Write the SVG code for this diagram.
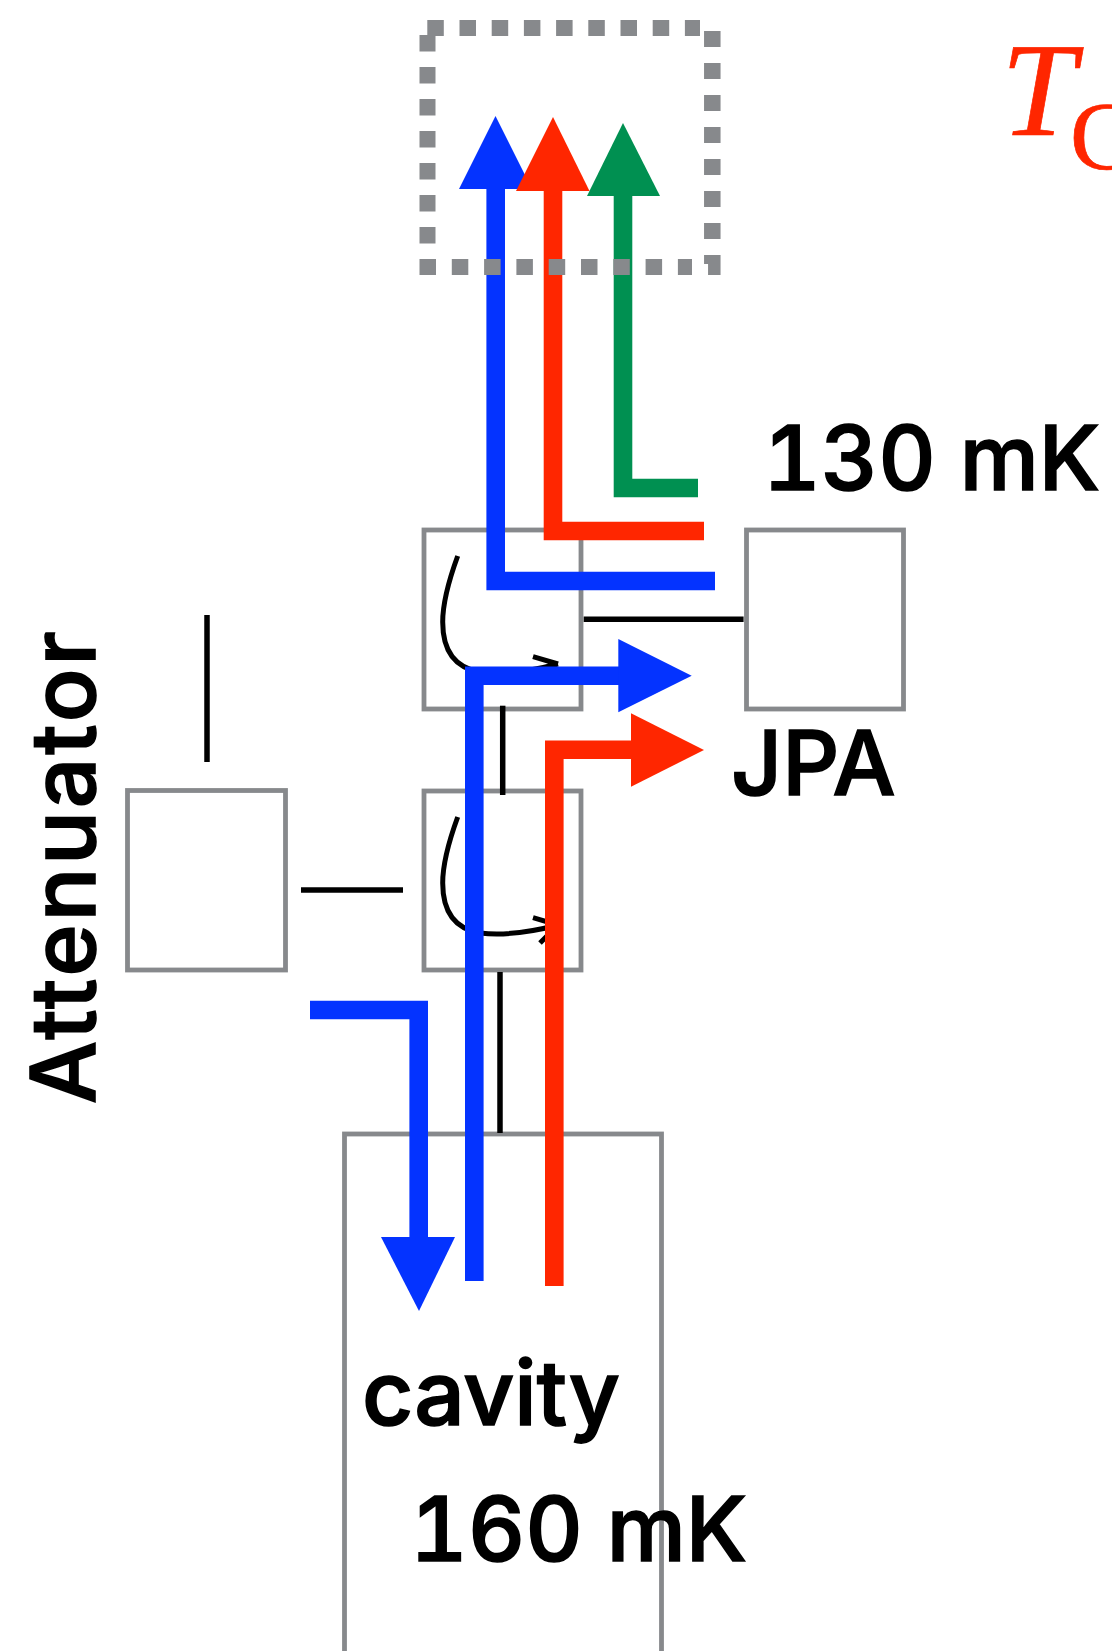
<svg xmlns="http://www.w3.org/2000/svg" width="1112" height="1651" viewBox="0 0 1112 1651">
<style>
.box{fill:none;stroke:#87898c;stroke-width:4.8}
.wire{fill:none;stroke:#000;stroke-width:5.5}
.thin{fill:none;stroke:#000;stroke-width:5}
.blue{fill:none;stroke:#0433ff;stroke-width:18.6}
.red{fill:none;stroke:#ff2600;stroke-width:18.6}
.green{fill:none;stroke:#009051;stroke-width:18.6}
.dot{fill:none;stroke:#87898c}
.lbl{font-family:Inter,"Liberation Sans",Arial,sans-serif;font-size:89px;font-weight:500;fill:#000;stroke:#000;stroke-width:1.6}
.num{font-variant-numeric:tabular-nums}
.tc{font-family:"Liberation Serif","Times New Roman",serif;fill:#ff2600;stroke:#ff2600;stroke-width:.7}
</style>
<rect width="1112" height="1651" fill="#fff"/>
<g id="circulator-top"><rect class="box" x="424" y="530" width="157" height="179"/>
<g id="circulator-top-symbol"><path class="thin" d="M457.7 556C446 588 442.7 608 442.7 622C442.7 652 456 668 480 672C505 675 535 670 558 664M533 656.7L558 664"/></g></g>
<g id="circulator-bottom"><rect class="box" x="424" y="791" width="157" height="179"/>
<g id="circulator-bottom-symbol"><path class="thin" d="M457.7 817C446 849 442.7 869 442.7 883C442.7 913 456 929 480 933C505 936 535 931 558 925M533 917.7L558 925L540 943"/></g></g>
<g id="attenuator"><rect class="box" x="127.5" y="790.5" width="158" height="179.5"/>
<text class="lbl" transform="translate(95 1104) rotate(-90)" textLength="473" lengthAdjust="spacing">Attenuator</text></g>
<g id="jpa"><rect class="box" x="746.5" y="530" width="157" height="179"/>
<text class="lbl" x="731" y="795">JPA</text></g>
<g id="cavity"><rect class="box" x="344.5" y="1134" width="317" height="540"/>
<text class="lbl" x="362" y="1425" textLength="258" lengthAdjust="spacing">cavity</text>
<text class="lbl num" x="410" y="1561" textLength="337" lengthAdjust="spacing">160 mK</text></g>
<g id="temp-130"><text class="lbl num" x="763" y="490" textLength="337" lengthAdjust="spacing">130 mK</text></g>
<g id="tc-label"><text class="tc" font-size="134" font-style="italic" x="1001" y="135">T</text><text class="tc" font-size="97" x="1070" y="169">C</text></g>
<g id="connectors">
<path class="wire" d="M583.7 619.3H743.6"/>
<path class="wire" d="M502.7 705.7V795"/>
<path class="wire" d="M500 972V1133"/>
<path class="wire" d="M301 890H403"/>
<path class="wire" d="M207 615V762"/>
<path class="blue" d="M715 581H495.7V180"/><polygon fill="#0433ff" points="495.5,116 532,189 459,189"/>
<path class="green" d="M698 488H623V190"/><polygon fill="#009051" points="623,123 660,196 587,196"/>
<path class="red" d="M704 531H553V185"/><polygon fill="#ff2600" points="553,117 589.5,191 516,191"/>
<path class="blue" d="M474.3 1281V675.7H625"/><polygon fill="#0433ff" points="691.7,675.7 618.3,712.3 618.3,639"/>
<path class="red" d="M554.3 1286V749.7H640"/><polygon fill="#ff2600" points="704,750 631,786.7 631,713.3"/>
<path class="blue" d="M310 1010H418.7V1245"/><polygon fill="#0433ff" points="419,1311 381,1237 455,1237"/>
</g>
<g id="dotted-box">
<path class="dot" stroke-width="16" stroke-dasharray="16.5 15.7" d="M427.3 28H700"/>
<path class="dot" stroke-width="16" stroke-dasharray="16.5 15.5" d="M427.5 35V244"/>
<path class="dot" stroke-width="16.5" stroke-dasharray="16 16" d="M712.3 31V239"/>
<path class="dot" stroke-width="16" stroke-dasharray="16.5 15.8" d="M419.5 267H692"/>
<path class="dot" stroke-width="16.5" d="M712.3 255V264"/>
<path class="dot" stroke-width="12.5" d="M714.3 264V275"/>
</g>
</svg>
